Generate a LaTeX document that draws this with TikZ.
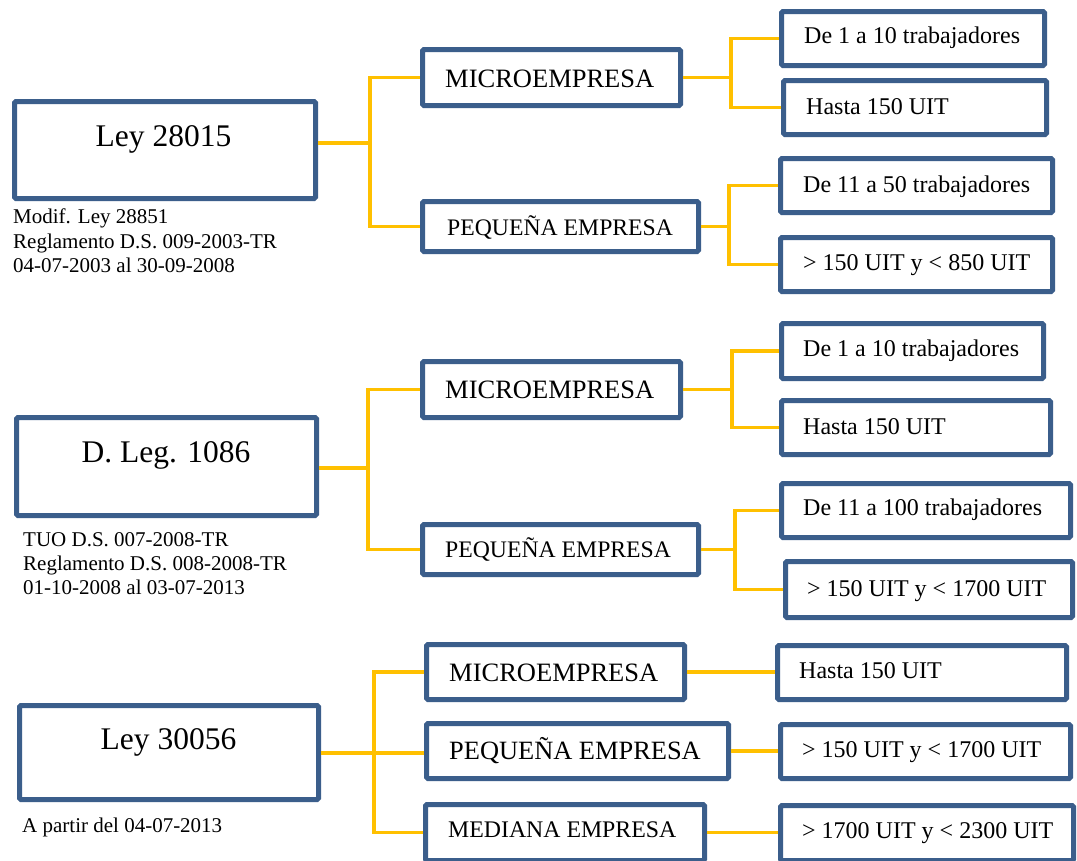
\documentclass[tikz,border=0pt]{standalone}
\usepackage{fontspec}
\setmainfont{Liberation Serif}
\definecolor{boxblue}{RGB}{59,94,139}
\definecolor{linkyellow}{RGB}{255,192,0}
\newcommand\ebox[5]{\node[ebox, minimum width={#4-#2-5}, minimum height={#5-#3-5}] (#1) at ({(#2+#4)/2},{(#3+#5)/2}) {};}
\newcommand\fs[1]{\fontsize{#1}{#1}\selectfont}
\begin{document}
\begin{tikzpicture}[x=1pt,y=-1pt,
  ebox/.style={draw=boxblue, line width=5pt, rounded corners=1.5pt, fill=white, inner sep=0pt},
  conn/.style={draw=linkyellow, line width=3.5pt},
  txt/.style={inner sep=0pt, anchor=base west, font=\fs{24}},
  bigtxt/.style={inner sep=0pt, anchor=base, font=\fs{31.5}},
  note/.style={inner sep=0pt, anchor=base west, font=\fs{21}},
  midA/.style={txt, font=\fs{26.5}},
  midB/.style={txt, font=\fs{23.7}}]
\useasboundingbox (0,0) rectangle (1077,860);
\fill[white] (0,0) rectangle (1077,860);

% ---------- Group 1 ----------
\ebox{law1}{12}{99}{318}{201}
\ebox{micro1}{420}{47}{683}{108}
\ebox{peq1}{420}{199}{701}{254}
\ebox{de1}{779}{9}{1047}{68}
\ebox{hasta1}{781}{78}{1049}{137}
\ebox{de11}{778}{156}{1055}{215}
\ebox{gt1}{778}{235}{1055}{294}

\coordinate (j1) at (370,143);
\coordinate (k1) at (731,77);
\coordinate (m1) at (729,227);
\draw[conn] (law1.east |- j1) -- (j1);
\draw[conn] (micro1.west) -| (j1) |- (peq1.west);
\draw[conn] (micro1.east) -- (micro1.east -| k1);
\draw[conn] (de1.west) -| (k1) |- (hasta1.west);
\draw[conn] (peq1.east) -- (peq1.east -| m1);
\draw[conn] (de11.west) -| (m1) |- (gt1.west);

\node[bigtxt] (law1t) at (163.5,146) {Ley 28015};
\node[note] (n1a) at (13,223) {Modif. Ley 28851};
\node[note] (n1b) at (13,248) {Reglamento D.S. 009-2003-TR};
\node[note] (n1c) at (13,272) {04-07-2003 al 30-09-2008};
\node[midA] (micro1t) at (445,87) {MICROEMPRESA};
\node[midB] (peq1t) at (447,235) {PEQUEÑA EMPRESA};
\node[txt] (de1t) at (804,43) {De 1 a 10 trabajadores};
\node[txt] (hasta1t) at (806,114) {Hasta 150 UIT};
\node[txt] (de11t) at (803,192) {De 11 a 50 trabajadores};
\node[txt] (gt1t) at (803,270) {> 150 UIT y < 850 UIT};

% ---------- Group 2 ----------
\ebox{law2}{14}{415}{319}{518}
\ebox{micro2}{420}{359}{683}{420}
\ebox{peq2}{420}{522}{701}{577}
\ebox{de2}{779}{321}{1046}{381}
\ebox{hasta2}{779}{398}{1053}{457}
\ebox{de100}{779}{481}{1073}{540}
\ebox{gt2}{783}{559}{1075}{620}

\coordinate (j2) at (368,468);
\coordinate (k2) at (732,389);
\coordinate (m2) at (735,549);
\draw[conn] (law2.east |- j2) -- (j2);
\draw[conn] (micro2.west) -| (j2) |- (peq2.west);
\draw[conn] (micro2.east) -- (micro2.east -| k2);
\draw[conn] (de2.west) -| (k2) |- (hasta2.west);
\draw[conn] (peq2.east) -- (peq2.east -| m2);
\draw[conn] (de100.west) -| (m2) |- (gt2.west);

\node[bigtxt] (law2t) at (166,462) {D. Leg. 1086};
\node[note] (n2a) at (23,546) {TUO D.S. 007-2008-TR};
\node[note] (n2b) at (23,570) {Reglamento D.S. 008-2008-TR};
\node[note] (n2c) at (23,594) {01-10-2008 al 03-07-2013};
\node[midA] (micro2t) at (445,398) {MICROEMPRESA};
\node[midB] (peq2t) at (445,557) {PEQUEÑA EMPRESA};
\node[txt] (de2t) at (803,356) {De 1 a 10 trabajadores};
\node[txt] (hasta2t) at (803,434) {Hasta 150 UIT};
\node[txt] (de100t) at (803,515) {De 11 a 100 trabajadores};
\node[txt] (gt2t) at (807,596) {> 150 UIT y < 1700 UIT};

% ---------- Group 3 ----------
\ebox{law3}{17}{703}{321}{802}
\ebox{micro3}{424}{642}{687}{702}
\ebox{peq3}{424}{721}{731}{781}
\ebox{med3}{423}{802}{707}{863}
\ebox{hasta3}{775}{643}{1069}{702}
\ebox{gt3}{778}{722}{1073}{781}
\ebox{gt3b}{778}{803}{1076}{863}

\coordinate (j3) at (374,753);
\draw[conn] (law3.east |- j3) -- (peq3.west |- j3);
\draw[conn] (micro3.west) -| (j3) |- (med3.west);
\draw[conn] (micro3.east) -- (hasta3.west |- micro3.east);
\draw[conn] (peq3.east) -- (gt3.west |- peq3.east);
\draw[conn] (med3.east) -- (gt3b.west |- med3.east);

\node[bigtxt] (law3t) at (168.5,749) {Ley 30056};
\node[note] (n3a) at (22,832) {A partir del 04-07-2013};
\node[midA] (micro3t) at (449,681) {MICROEMPRESA};
\node[txt, font=\fs{26.4}] (peq3t) at (449,759) {PEQUEÑA EMPRESA};
\node[txt, font=\fs{23.8}] (med3t) at (448,837) {MEDIANA EMPRESA};
\node[txt] (hasta3t) at (799,678) {Hasta 150 UIT};
\node[txt] (gt3t) at (802,757) {> 150 UIT y < 1700 UIT};
\node[txt] (gt3bt) at (802,838) {> 1700 UIT y < 2300 UIT};
\end{tikzpicture}
\end{document}
